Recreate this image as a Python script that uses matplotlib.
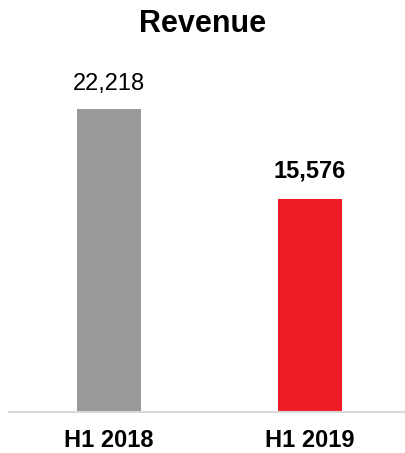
import matplotlib
matplotlib.use("Agg")
import matplotlib.pyplot as plt

periods = ["H1 2018", "H1 2019"]
revenue = [22218, 15576]
bar_colors = ["#999999", "#ed1c24"]
label_weights = ["normal", "bold"]

plt.rcParams['font.family'] = ['Liberation Sans', 'DejaVu Sans']

fig = plt.figure(figsize=(4.05, 4.53), dpi=100)
ax = fig.add_axes([9 / 405, 1 - 412 / 453, 396 / 405, 352 / 453])

x = range(len(periods))
bars = ax.bar(x, revenue, width=0.318, color=bar_colors)

for b, v, w, off in zip(bars, revenue, label_weights, [10, 12]):
    ax.annotate(f"{v:,}", (b.get_x() + b.get_width() / 2, v),
                xytext=(0, off), textcoords="offset points",
                ha="center", va="bottom", fontsize=17, fontweight=w)

ax.set_xlim(-0.4975, 1.4726)
ax.set_ylim(0, 25800)
ax.set_xticks(list(x))
ax.set_xticklabels(periods, fontsize=17, fontweight="bold")
ax.tick_params(axis="x", length=0, pad=12)
ax.set_yticks([])
for s in ["top", "right", "left"]:
    ax.spines[s].set_visible(False)
ax.spines["bottom"].set_color("#d9d9d9")
ax.spines["bottom"].set_linewidth(1.5)

fig.text(0.5, 1 - 32 / 453, "Revenue", ha="center", va="baseline",
         fontsize=22, fontweight="bold")

fig.savefig("out.png", dpi=100)
